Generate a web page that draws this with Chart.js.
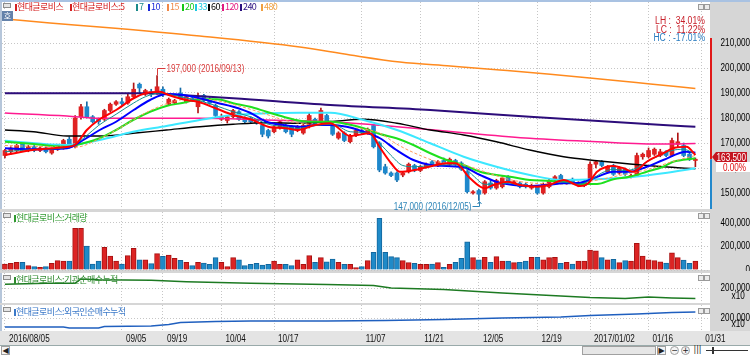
<!DOCTYPE html>
<html><head><meta charset="utf-8">
<script src="https://cdn.jsdelivr.net/npm/chart.js@4.4.1/dist/chart.umd.min.js"></script>
<style>
html,body{margin:0;padding:0}
body{width:750px;height:355px;overflow:hidden;position:relative;background:#d6d6d6}
canvas{position:absolute;left:0;display:block}
.t{position:absolute;white-space:nowrap;line-height:10px;font-size:9px;font-family:"Noto Sans CJK KR",sans-serif;letter-spacing:-0.6px}
.n{position:absolute;white-space:nowrap;line-height:10px;font-size:11px;font-family:"Liberation Sans",Arial,sans-serif;transform:scaleX(0.74);transform-origin:100% 50%}
.mk{position:absolute;width:2px;height:7px}
.ic{position:absolute;width:6px;height:3px;border:1px solid #8c8c8c;background:#e4e4e4}
.bt{position:absolute;width:4px;height:4px;border:1px solid #9a9a9a;background:#ececec}
.sb{position:absolute;box-sizing:border-box;border:1px solid #a0a0a0;background:#f4f4f4;font:8px "DejaVu Sans",sans-serif;line-height:8px;text-align:center;color:#222}
</style></head><body>
<canvas id="c1" width="750" height="211" style="top:0"></canvas>
<canvas id="c2" width="750" height="60" style="top:211px"></canvas>
<canvas id="c3" width="750" height="32" style="top:272px"></canvas>
<canvas id="c4" width="750" height="41" style="top:304px"></canvas>
<div id="ov"></div>
<script>
// ---------------- data ----------------
const dateLabels = ['2016/08/05','09/05','09/19','10/04','10/17','11/07','11/21','12/05','12/19','2017/01/02','01/16','01/31'];
const dateIndex  = [0,20,27,37,46,61,71,81,91,100,110,119];

const openP = [165000,166500,167000,169500,167000,168500,167000,168000,166000,167500,
168000,171500,168500,180500,184500,180500,179500,179500,183000,185500,
186500,186000,188500,193500,189500,190500,190000,191500,185500,186000,
190000,186500,188000,184500,189000,187500,185000,179500,179000,180500,
182500,180000,180000,179000,177000,175000,174500,176000,177000,176500,
175000,174000,176500,179500,178500,181000,177500,172000,174000,170500,
173000,175000,174000,177000,170000,160500,158000,158000,157200,158500,
161000,159000,160500,162500,161000,163000,161500,163000,162000,158500,
150000,151000,150000,154000,152000,152500,156500,153500,154000,153500,
152000,152500,150000,152500,155500,157000,154000,155500,153500,153000,
155000,161500,162500,158500,161000,158000,159500,156500,157000,164500,
164500,165500,165000,166500,165000,169500,169000,165500,163000];
const highP = [167500,168500,169500,170000,169000,169000,168500,168500,168000,169500,
171500,172500,181000,185500,186500,181000,180000,183500,186000,187000,
188000,189500,194000,194000,191500,191500,197000,192500,188000,187500,
192000,189000,188500,190000,189500,188500,185500,181500,181000,183500,
183000,180500,180500,179500,177500,175500,177000,179000,177500,177000,
177000,177500,182000,180000,184000,181500,178000,174500,174500,173500,
175500,176000,176000,177500,170500,161500,158500,158500,158500,162000,
161500,161000,162000,163000,163000,164000,164000,163500,162500,159000,
151000,151500,155000,155000,155500,156500,157000,155000,154500,154000,
153500,153000,154000,155500,157000,157500,155000,156000,154500,155000,
162500,163000,163000,161000,161500,160500,160000,157500,166000,166000,
168000,168000,167500,167000,172000,174000,170000,166000,164000];
const lowP = [164000,165500,166500,167000,166500,166500,166500,166000,165500,167000,
167500,168000,168000,179500,180000,178000,177500,179000,182500,185000,
185000,185500,188000,190000,189000,188500,189500,188500,185000,185500,
187500,186000,186500,182000,186500,185500,180500,179000,178000,180000,
179000,178000,178000,177500,172500,172000,174000,175500,174000,172500,
174500,173500,176000,177000,178000,177000,173000,171500,170500,170000,
172500,173500,173500,168000,158500,157500,156500,154500,156500,158000,
158500,158500,160000,160500,160500,161500,161000,161000,159000,150000,
149500,147000,149500,151500,151500,152000,154000,153000,152000,152000,
151500,149500,149500,152000,155000,155000,153500,154000,152500,152500,
154500,160000,160500,158000,157000,157500,157000,156000,156500,163500,
164000,165000,164500,164500,164500,168500,164500,163000,160500];
const closeP = [167000,168000,169000,167500,168500,167000,168000,166500,167500,169000,
171000,168500,180000,184500,180500,178500,178500,183000,185500,186500,
185800,188500,191500,192000,191000,189500,192500,189500,187500,187000,
188000,188500,187000,187500,187000,186000,181000,180500,180500,183000,
179500,178500,178500,178000,173500,172800,176500,178500,174500,173500,
176500,177000,181000,177500,183000,177500,173500,174000,171000,172800,
175000,174000,175500,168500,159200,158000,157000,155200,158000,161500,
159200,160500,161500,161000,162500,162000,163500,161500,159500,150500,
150500,149500,154500,152000,155000,156000,154500,154500,152500,152500,
153000,150000,153500,155000,156500,155500,154500,154500,154000,154500,
161500,162500,161000,160500,157500,160000,157500,157000,165000,165500,
167000,167500,166500,165000,171000,170500,165000,163500,163500];
const volume = [51000,56000,65000,65000,37000,28000,23000,28000,56000,79000,
76000,76000,352000,352000,203000,51000,76000,192000,118000,76000,
51000,121000,183000,85000,85000,54000,138000,115000,127000,99000,
82000,65000,37000,65000,59000,48000,104000,65000,28000,104000,
85000,37000,48000,56000,42000,48000,76000,48000,48000,37000,
85000,48000,121000,65000,104000,70000,93000,65000,48000,48000,
20000,28000,79000,149000,437000,149000,113000,104000,79000,62000,
56000,48000,48000,51000,62000,23000,48000,65000,99000,239000,
104000,85000,107000,65000,113000,76000,76000,62000,65000,76000,
107000,107000,85000,104000,107000,56000,65000,51000,76000,76000,
169000,161000,104000,85000,90000,62000,79000,76000,225000,118000,
85000,79000,68000,59000,146000,104000,84000,56000,76000];

// moving averages: [candle index, value]
const ma5 = [[0,165200],[5,167300],[10,168300],[12,169300],[14,175200],[16,179200],[19,183200],[22,187900],[24,189900],[26.5,190500],[28,189200],[31,187200],[33,186500],[36,183900],[39,181200],[42,179500],[45,176500],[48,175900],[50,175200],[53,177200],[55.6,177900],[59,172800],[62.4,173900],[64,168500],[66,161900],[67.5,158500],[70,159200],[73,160800],[75.5,161900],[77,161900],[79.5,155900],[82,151900],[83.5,153200],[86,154500],[88,153200],[91,152500],[93,153200],[95.5,155200],[98.3,152800],[99.7,153900],[101.2,158500],[104,160800],[105.7,159900],[107.4,158500],[109.7,162500],[112.5,165900],[114.2,167900],[116.5,168500],[118,165200]];
const ma7 = [[0,166500],[5,167400],[10,168000],[12,169500],[14,173000],[16,177000],[19,181500],[22,186000],[24,188500],[26.5,190000],[28,189500],[31,188000],[33,187000],[36,185000],[39,182500],[42,180500],[45,177500],[48,176500],[50,175800],[53,177000],[56,177500],[59,174500],[62,174000],[64,170000],[66,165000],[68,161000],[70,160500],[73,161000],[76,161300],[78,161000],[80,157000],[82,153500],[84,153500],[86,154000],[88,153000],[91,152600],[93,153200],[95,154500],[98,153500],[100,155000],[102,158000],[104,159500],[106,159000],[108,160000],[110,163000],[112,165000],[114,167000],[116,167500],[118,165500]];
const ma10 = [[0,167900],[5,167500],[10.6,167900],[13.4,171200],[16.2,175200],[19,178500],[22,183200],[24.8,187200],[27.6,189600],[30.5,189200],[33.3,187900],[36.2,186100],[39,184500],[41.9,182100],[44.7,178500],[47.6,177200],[50.4,176500],[53.3,177200],[55.6,177200],[58.4,176500],[61.3,174500],[64.1,171900],[66.9,167200],[69.8,163200],[72.7,161200],[75.5,160800],[78.4,160300],[81.2,157200],[84,154500],[86.9,153200],[89.7,152800],[92.6,153200],[95.5,153900],[98.3,154100],[101.2,156500],[104,158500],[106.8,158500],[109.7,160500],[112.5,163200],[116.5,166500],[118,166100]];
const ma15 = [[0,169000],[8,168500],[12,168300],[16,171500],[20,176500],[24,182000],[28,186000],[32,187800],[36,187000],[40,184800],[44,182000],[48,179000],[52,177500],[56,177300],[60,176000],[64,174000],[67,169500],[70,166000],[74,162500],[78,161500],[82,158500],[86,155500],[90,154000],[94,153600],[98,154000],[102,155500],[106,157500],[110,159500],[114,162500],[118,165000]];
const ma20 = [[0,170500],[4.9,169600],[10.6,168500],[13.4,169900],[16.2,171900],[19,175200],[21.9,179200],[24.8,182500],[27.6,184800],[30.5,186100],[33.3,187500],[36.2,187500],[39,185900],[41.9,184500],[44.7,182500],[47.6,180500],[50.4,178900],[53.3,178500],[55.6,178500],[58.4,177600],[61.3,175900],[64.1,173600],[66.9,171900],[69.8,169200],[72.7,165900],[75.5,163200],[78.4,161200],[81.2,158500],[84,157200],[86.9,156300],[89.7,155200],[92.6,154900],[95.5,154500],[98.3,153600],[101.2,153600],[104,155500],[106.8,156500],[109.7,158500],[112.5,160500],[114.2,162500],[118,163900]];
const ma33 = [[0,170900],[10.6,169200],[16.2,171200],[21.9,174500],[27.6,176800],[33.3,179200],[39,181200],[44.7,181900],[50.4,182100],[55.6,182100],[61.3,179200],[67,175200],[72.7,169900],[78.4,164500],[84,160500],[89.7,157200],[95.5,155200],[101.2,155500],[106.8,156300],[112.5,157900],[118,159900]];
const ma60 = [[0,175200],[4.9,174500],[10.6,172800],[16.2,172800],[21.9,173900],[27.6,175200],[33.3,176500],[39,177500],[44.7,178100],[50.4,177900],[55.6,178600],[61.3,179500],[67,177900],[72.7,175200],[78.4,173200],[84,170500],[89.7,167200],[95.5,164500],[101.2,162900],[106.8,161600],[112.5,160500],[118,159700]];
const ma120 = [[0,182000],[10.6,180800],[16.2,179900],[33.3,179900],[44.7,179200],[55.6,178500],[67,176500],[78.4,174100],[89.7,171900],[101.2,170500],[112.5,169600],[118,169800]];
const ma240 = [[0,189900],[16.2,189900],[25,189900],[27.6,189500],[39,187900],[55.6,185200],[72.7,183200],[89.7,180500],[112.5,177200],[118,176500]];
const ma480 = [[0,219600],[7.7,218000],[16.2,216400],[33.3,212800],[50.4,208400],[59,205200],[67.5,202400],[76.1,200800],[84.6,199200],[93.2,197500],[101.7,195600],[110.3,193600],[118,191800]];

// cumulative net buying (x10): [candle index, value]
const instCum = [[0,237000],[7,247000],[12,248000],[13,290000],[16,282000],[25,278000],[31,263000],[42,247000],[55,235000],[63,225000],[66,200000],[75,185000],[85,150000],[95,120000],[100,105000],[106,95000],[110,110000],[114,100000],[118,95000]];
const foreignCum = [[0,110000],[10,110000],[11,100000],[16,100000],[17,115000],[25,120000],[28,135000],[30,155000],[36,165000],[42,170000],[55,170000],[65,175000],[75,185000],[85,200000],[95,210000],[100,225000],[108,240000],[114,255000],[118,260000]];

const priceTicks = [150000,160000,170000,180000,190000,200000,210000];
const volTicks = [0,100000,200000,300000,400000];
const cumTicks = [200000];
const lastClose = 163500;
const rangeTop = 212000;
const highMark = {index: 26, value: 197000, text: '197,000 (2016/09/13)'};
const lowMark  = {index: 81, value: 147000, text: '147,000 (2016/12/05)'};
const statLines = [['LH :  34.01%', '#c8202a'], ['LC :  11.22%', '#c8202a'], ['HC : -17.01%', '#2a7cc0']];

// ---------------- fonts (narrow HTS-like text: horizontally condensed) ----------------
const FAM = '"Liberation Sans", Arial, sans-serif';
const FS = 11, SX = 0.74;
Chart.defaults.font.family = FAM;
Chart.defaults.font.size = FS;
const fmt = v => Number(v).toLocaleString('en-US');
const condense = {
  id: 'condense',
  beforeInit(chart) {
    const ctx = chart.ctx;
    const P = CanvasRenderingContext2D.prototype;
    ctx.fillText = function (t, x, y, mw) {
      this.save(); this.translate(x, y); this.scale(SX, 1); P.fillText.call(this, t, 0, 0); this.restore();
    };
    ctx.measureText = function (t) {
      const m = P.measureText.call(this, t);
      return {width: m.width * SX, actualBoundingBoxAscent: m.actualBoundingBoxAscent,
        actualBoundingBoxDescent: m.actualBoundingBoxDescent,
        actualBoundingBoxLeft: m.actualBoundingBoxLeft * SX, actualBoundingBoxRight: m.actualBoundingBoxRight * SX};
    };
  }
};

// ---------------- helpers ----------------
const UP = '#e02222', DOWN = '#1e88cc', UPD = '#b01414', DOWND = '#146aa6';
const isUp = closeP.map((c, i) => c >= openP[i]);
const GRID = '#c6c6c6';

const bgPlugin = {
  id: 'panelBg',
  beforeDraw(chart, args, opts) {
    const {ctx, chartArea: a, width, height} = chart;
    ctx.save();
    ctx.fillStyle = '#d6d6d6'; ctx.fillRect(0, 0, width, height);
    if (opts.labelRow) { ctx.fillStyle = '#e4e4e4'; ctx.fillRect(0, a.bottom, width, height - a.bottom); }
    if (opts.topBar) { ctx.fillStyle = '#a9c2e2'; ctx.fillRect(0, 0, width, a.top); }
    ctx.fillStyle = '#ffffff'; ctx.fillRect(a.left, a.top, a.right - a.left, a.bottom - a.top);
    ctx.fillStyle = '#b6c6da'; ctx.fillRect(0, a.top, a.left, a.bottom - a.top);
    ctx.restore();
  }
};

function xAxis(show) {
  return {
    type: 'linear', min: -0.5, max: 120.5, offset: false,
    afterBuildTicks: s => { s.ticks = dateIndex.map(v => ({value: v})); },
    ticks: {display: show, autoSkip: false, maxRotation: 0, minRotation: 0, align: 'start', labelOffset: 4, padding: 1,
      color: '#111', callback: v => dateLabels[dateIndex.indexOf(v)]},
    grid: {color: GRID, lineWidth: 1, drawTicks: false, offset: false},
    border: {display: false, dash: [1, 2]},
    afterFit: s => { s.height = show ? 14 : 0; s.paddingLeft = 0; s.paddingRight = 0; }
  };
}
function yAxis(min, max, ticks) {
  return {
    position: 'right', min, max,
    afterBuildTicks: s => { s.ticks = ticks.map(v => ({value: v})); },
    ticks: {color: '#000', padding: 5, crossAlign: 'far', callback: v => fmt(v)},
    grid: {color: GRID, lineWidth: 1, drawTicks: false},
    border: {display: false, dash: [1, 2]},
    afterFit: s => { s.width = 40; s.paddingTop = 0; s.paddingBottom = 0; }
  };
}
function baseOpts(pad, xShow, y, extra) {
  return {
    responsive: false, animation: false, events: [],
    layout: {padding: pad},
    plugins: {legend: {display: false}, tooltip: {enabled: false}, panelBg: extra || {}},
    scales: {x: xAxis(xShow), y}
  };
}
const pts = arr => arr.map(p => ({x: p[0], y: p[1]}));
function maLine(arr, color, w, order, dash) {
  return {type: 'line', data: pts(arr), borderColor: color, borderWidth: w, pointRadius: 0,
    cubicInterpolationMode: 'monotone', borderDash: dash || [], order, fill: false};
}

// ---------------- main price chart ----------------
const mainExtras = {
  id: 'mainExtras',
  afterDatasetsDraw(chart) {
    const {ctx, scales: {x, y}} = chart;
    ctx.save();
    ctx.font = FS + 'px ' + FAM;
    ctx.textBaseline = 'middle';
    let px = Math.round(x.getPixelForValue(highMark.index)) + 0.5;
    let py = Math.round(y.getPixelForValue(highMark.value));
    ctx.strokeStyle = '#d83a3a'; ctx.fillStyle = '#d83a3a'; ctx.lineWidth = 1;
    ctx.beginPath(); ctx.moveTo(px, py - 1); ctx.lineTo(px, py - 7.5); ctx.lineTo(px + 8, py - 7.5); ctx.stroke();
    ctx.textAlign = 'left'; ctx.fillText(highMark.text, px + 9, py - 7);
    px = Math.round(x.getPixelForValue(lowMark.index)) + 0.5;
    py = Math.round(y.getPixelForValue(lowMark.value));
    ctx.strokeStyle = '#2f86b8'; ctx.fillStyle = '#2f86b8';
    ctx.beginPath(); ctx.moveTo(px, py + 1); ctx.lineTo(px, py + 5.5); ctx.lineTo(px - 7, py + 5.5); ctx.stroke();
    ctx.beginPath(); ctx.moveTo(px - 2, py + 3); ctx.lineTo(px, py + 0.5); ctx.lineTo(px + 2, py + 3); ctx.stroke();
    ctx.textAlign = 'right'; ctx.fillText(lowMark.text, px - 8, py + 5.5);
    ctx.restore();
  },
  afterDraw(chart) {
    const {ctx, scales: {y}, chartArea: a} = chart;
    ctx.save();
    const cy = y.getPixelForValue(lastClose);
    const ty = y.getPixelForValue(rangeTop);
    ctx.fillStyle = '#e01818'; ctx.fillRect(a.right, ty, 2, cy - ty);
    ctx.fillStyle = '#2288cc'; ctx.fillRect(a.right, cy, 2, a.bottom - cy);
    const by = Math.round(cy - 2);
    ctx.fillStyle = '#c41420';
    ctx.beginPath(); ctx.moveTo(a.right + 2, by); ctx.lineTo(a.right + 6, by - 5); ctx.lineTo(747, by - 5);
    ctx.lineTo(747, by + 5); ctx.lineTo(a.right + 6, by + 5); ctx.closePath(); ctx.fill();
    ctx.font = FS + 'px ' + FAM; ctx.textBaseline = 'middle'; ctx.textAlign = 'right';
    ctx.fillStyle = '#ffffff'; ctx.fillText(fmt(lastClose), 746, by + 0.5);
    ctx.fillStyle = '#ffffff'; ctx.fillRect(a.right + 6, by + 5, 41, 10);
    ctx.fillStyle = '#e01010'; ctx.fillText('0.00%', 746, by + 10.5);
    ctx.restore();
  }
};

new Chart(document.getElementById('c1'), {
  type: 'bar',
  data: {datasets: [
    maLine(ma5, '#ff0000', 2, 1),
    maLine(ma7, '#129090', 1, 2),
    maLine(ma10, '#0000ff', 2, 3),
    maLine(ma15, '#ff9a5a', 1, 4, [3, 2]),
    maLine(ma20, '#1ee01e', 2, 5),
    maLine(ma33, '#3ce8ff', 2, 6),
    maLine(ma60, '#000000', 1.3, 7),
    maLine(ma120, '#ff1a90', 1.5, 8),
    maLine(ma240, '#2c0c7a', 2, 9),
    maLine(ma480, '#ff8a1e', 1.5, 10),
    {type: 'bar', data: openP.map((o, i) => ({x: i, y: [openP[i], closeP[i]]})), grouped: false,
      barThickness: 4, maxBarThickness: 4, minBarLength: 1, borderWidth: 0, borderSkipped: false,
      backgroundColor: isUp.map(u => u ? UP : DOWN), order: 11},
    {type: 'bar', data: openP.map((o, i) => ({x: i, y: [lowP[i], highP[i]]})), grouped: false,
      barThickness: 1, maxBarThickness: 1, borderWidth: 0,
      backgroundColor: isUp.map(u => u ? UPD : DOWND), order: 12}
  ]},
  options: baseOpts({top: 2, bottom: 2, left: 2, right: 0}, false, yAxis(143600, 226400, priceTicks), {topBar: true}),
  plugins: [condense, bgPlugin, mainExtras]
});

// ---------------- volume ----------------
new Chart(document.getElementById('c2'), {
  type: 'bar',
  data: {datasets: [{data: volume.map((v, i) => ({x: i, y: v})), barThickness: 5, maxBarThickness: 5,
    backgroundColor: isUp.map(u => u ? '#dc2424' : '#1f8ac8'), borderColor: isUp.map(u => u ? '#a81212' : '#13679e'),
    borderWidth: 1, borderSkipped: 'start'}]},
  options: baseOpts({top: 1, bottom: 1, left: 2, right: 0}, false, yAxis(0, 490000, volTicks)),
  plugins: [condense, bgPlugin]
});

// ---------------- institutional cumulative ----------------
new Chart(document.getElementById('c3'), {
  type: 'line',
  data: {datasets: [{data: pts(instCum), borderColor: '#1d7a22', borderWidth: 1.5, pointRadius: 0, tension: 0}]},
  options: baseOpts({top: 1, bottom: 1, left: 2, right: 0}, false, yAxis(50000, 350000, cumTicks)),
  plugins: [condense, bgPlugin]
});

// ---------------- foreign cumulative + date axis ----------------
new Chart(document.getElementById('c4'), {
  type: 'line',
  data: {datasets: [{data: pts(foreignCum), borderColor: '#1f5fbf', borderWidth: 1.5, pointRadius: 0, tension: 0}]},
  options: baseOpts({top: 1, bottom: 0, left: 2, right: 0}, true, yAxis(70000, 330000, cumTicks), {labelRow: true}),
  plugins: [condense, bgPlugin]
});

// ---------------- text overlays ----------------
const ov = document.getElementById('ov');
function el(cls, style, txt) {
  const d = document.createElement('div');
  d.className = cls; Object.assign(d.style, style);
  if (txt != null) d.textContent = txt;
  ov.appendChild(d); return d;
}
const legend = [
  [15, 17, '#d42020', '현대글로비스'], [70, 72, '#d42020', '현대글로비스:5'],
  [136, 139, '#1a8a8a', '7'], [148, 151, '#1a2ad8', '10'], [167, 170, '#f08848', '15'],
  [182, 185, '#16c816', '20'], [195, 198, '#1cc8e0', '33'], [208, 211, '#000000', '60'],
  [222, 225, '#e21a80', '120'], [240, 243, '#2a1080', '240'], [261, 264, '#f0a040', '480']
];
legend.forEach(([m, t, c, s]) => {
  el('mk', {left: m + 'px', top: '4px', background: c});
  el('t', {left: t + 'px', top: '2px', color: c}, s);
});
el('t', {left: '2px', top: '11px', width: '11px', height: '10px', background: '#6482aa', color: '#fff',
  textAlign: 'center', letterSpacing: '0', fontSize: '8px'}, '호');
[[3, 3], [3, 213], [3, 275], [3, 307]].forEach(([l, t]) => el('ic', {left: l + 'px', top: t + 'px'}));
[4, 213, 275, 308].forEach(t => { el('bt', {left: '698px', top: t + 'px'}); el('bt', {left: '704px', top: t + 'px'}); });
el('mk', {left: '14px', top: '215px', background: '#2f9a2f'});
el('t', {left: '16px', top: '213px', color: '#2f9a2f'}, '현대글로비스:거래량');
el('mk', {left: '14px', top: '277px', background: '#2e8a2e'});
el('t', {left: '16px', top: '275px', color: '#2e8a2e'}, '현대글로비스:기관순매수누적');
el('mk', {left: '14px', top: '309px', background: '#3a78c8'});
el('t', {left: '16px', top: '307px', color: '#3a78c8'}, '현대글로비스:외국인순매수누적');
el('n', {right: '5px', top: '290px', color: '#000'}, 'x10');
el('n', {right: '5px', top: '318px', color: '#000'}, 'x10');
statLines.forEach(([s, c], i) => el('n', {right: '45px', top: (16 + i * 8.5) + 'px', color: c,
  fontSize: '10px', whiteSpace: 'pre', transform: 'scaleX(0.86)'}, s));
// scroll bar row
el('sb', {left: '0px', top: '345px', width: '750px', height: '10px', background: '#ffffff', border: '0', borderTop: '1px solid #9aa'});
el('sb', {left: '1px', top: '346px', width: '9px', height: '9px'}, '◀');
el('sb', {left: '582px', top: '346px', width: '74px', height: '9px', background: '#e6e6e6'});
el('sb', {left: '657px', top: '346px', width: '9px', height: '9px'}, '▶');
el('sb', {left: '670px', top: '346px', width: '9px', height: '9px', borderRadius: '5px'}, '−');
el('sb', {left: '681px', top: '346px', width: '9px', height: '9px', borderRadius: '5px'}, '+');
el('sb', {left: '693px', top: '346px', width: '9px', height: '9px', border: '0', background: 'transparent'}, '|||');
el('sb', {left: '706px', top: '350px', width: '42px', height: '1px', border: '0', background: '#333'});
el('sb', {left: '712px', top: '347px', width: '2px', height: '7px', border: '0', background: '#333'});
</script>
</body></html>
